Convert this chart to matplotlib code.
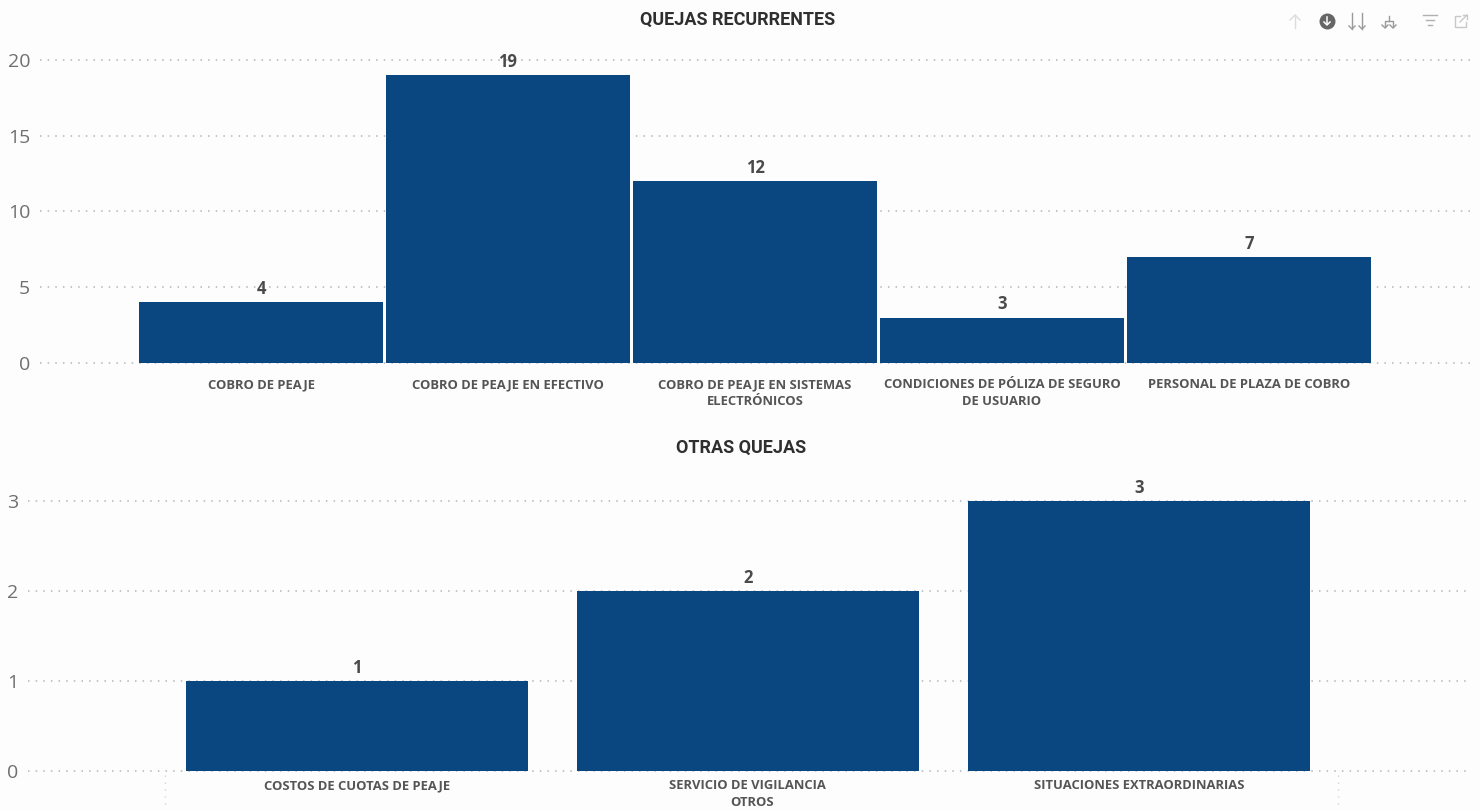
import matplotlib
matplotlib.use("Agg")
import matplotlib.pyplot as plt
from matplotlib.lines import Line2D
from matplotlib.patches import Rectangle

# Datos
cats_top = [
    "COBRO DE PEAJE",
    "COBRO DE PEAJE EN EFECTIVO",
    "COBRO DE PEAJE EN SISTEMAS\nELECTRÓNICOS",
    "CONDICIONES DE PÓLIZA DE SEGURO\nDE USUARIO",
    "PERSONAL DE PLAZA DE COBRO",
]
vals_top = [4, 19, 12, 3, 7]
ticks_top = [0, 5, 10, 15, 20]

cats_bottom = [
    "COSTOS DE CUOTAS DE PEAJE",
    "SERVICIO DE VIGILANCIA",
    "SITUACIONES EXTRAORDINARIAS",
]
vals_bottom = [1, 2, 3]
ticks_bottom = [0, 1, 2, 3]
group_bottom = "OTROS"

W, H = 1480, 810
BAR = "#0a4780"
GRID = "#b5b5b5"
LABEL = "#555555"
TICK = "#6f6f6f"
FONT = ["Open Sans", "DejaVu Sans"]

plt.rcParams["font.family"] = FONT

fig = plt.figure(figsize=(W / 100, H / 100), dpi=100, facecolor="#fdfdfd")


def make_axes(left, right, top, bottom):
    return fig.add_axes([left / W, 1 - bottom / H, (right - left) / W, (bottom - top) / H])


def style(ax, ticks, cats, lab_size):
    ax.set_facecolor("none")
    for s in ax.spines.values():
        s.set_visible(False)
    ax.set_yticks(ticks)
    ax.set_xticks(range(len(cats)))
    ax.set_xticklabels(cats, fontsize=lab_size, fontweight="bold", color=LABEL, linespacing=1.38)
    ax.tick_params(axis="y", length=0, labelsize=14, labelcolor=TICK, pad=7)
    ax.tick_params(axis="x", length=0, pad=11)
    ax.yaxis.grid(True, color=GRID, linestyle=(0, (1, 4)), linewidth=1.1)
    for gl in ax.get_ygridlines():
        gl.set_clip_on(False)
    ax.set_axisbelow(True)


def add_values(ax, vals):
    for i, v in enumerate(vals):
        ax.annotate(str(v), (i, v), xytext=(0, 3), textcoords="offset points", ha="center",
                    va="bottom", fontsize=12, fontweight="bold", color="#4a4a4a")


# Grafico de arriba
ax1 = make_axes(40, 1470, 40, 363)
ax1.bar(range(len(vals_top)), vals_top, width=0.988, color=BAR)
ax1.set_xlim(-0.895, 4.895)
ax1.set_ylim(0, 21.32)
style(ax1, ticks_top, cats_top, 9.35)
add_values(ax1, vals_top)

# Grafico de abajo
ax2 = make_axes(28, 1470, 470, 771)
ax2.bar(range(len(vals_bottom)), vals_bottom, width=0.875, color=BAR)
ax2.set_xlim(-0.841, 2.847)
ax2.set_ylim(0, 3.344)
style(ax2, ticks_bottom, cats_bottom, 9.4)
ax2.tick_params(axis="x", pad=6)
add_values(ax2, vals_bottom)

fig.text(738 / W, 1 - 20 / H, "QUEJAS RECURRENTES", ha="center", va="center",
         fontsize=13, fontweight="bold", color="#2f2f2f", family=["Roboto", "DejaVu Sans"])
fig.text(741 / W, 1 - 448 / H, "OTRAS QUEJAS", ha="center", va="center",
         fontsize=13, fontweight="bold", color="#2f2f2f", family=["Roboto", "DejaVu Sans"])
fig.text(752 / W, 1 - 803 / H, group_bottom, ha="center", va="center",
         fontsize=9.4, fontweight="bold", color=LABEL)


def px_line(xs, ys, color="#9a9a9a", lw=1.0, ls="-"):
    fig.add_artist(Line2D([x / W for x in xs], [1 - y / H for y in ys], color=color, lw=lw, ls=ls))


# Separadores del eje multinivel
for x in [165, 1338]:
    px_line([x, x], [775, 810], color="#d5d5d5", lw=1.0, ls=(0, (1, 4)))

# Iconos de la barra de Power BI
px_line([1295, 1295], [15, 28], color="#dcdcdc")
px_line([1290, 1295, 1300], [20, 15, 20], color="#dcdcdc")
fig.add_artist(Line2D([1327 / W], [1 - 21 / H], marker="o", ms=11.5, color="#666666", mew=0))
px_line([1327, 1327], [17, 24], color="#fdfdfd", lw=1.1)
px_line([1324, 1327, 1330], [22, 25, 22], color="#fdfdfd", lw=1.1)
for x in [1352, 1362]:
    px_line([x, x], [13, 29])
    px_line([x - 3, x, x + 3], [26, 29, 26])
px_line([1389, 1389], [16, 21])
px_line([1385, 1385, 1393, 1393], [27, 21, 21, 27])
px_line([1382, 1385, 1388], [25, 28, 25])
px_line([1390, 1393, 1396], [25, 28, 25])
px_line([1423, 1437], [15, 15], color="#b0b0b0")
px_line([1426, 1434], [20, 20], color="#b0b0b0")
px_line([1428, 1432], [25, 25], color="#b0b0b0")
# Icono de expandir: esquinas separadas y flecha diagonal
px_line([1460, 1455, 1455, 1466, 1466], [16, 16, 27, 27, 22], color="#c8c8c8")
px_line([1460, 1467], [22, 15], color="#c8c8c8")
px_line([1463, 1467, 1467], [15, 15, 19], color="#c8c8c8")

fig.savefig("out.png", dpi=100, facecolor=fig.get_facecolor())
